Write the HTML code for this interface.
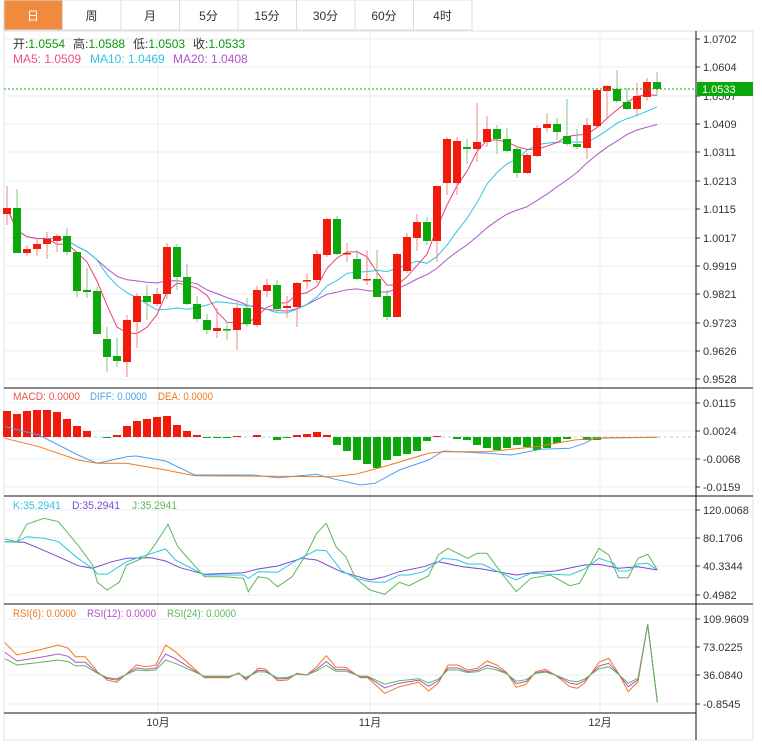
<!DOCTYPE html><html><head><meta charset="utf-8"><style>
body{margin:0;background:#fff;font-family:"Liberation Sans","Noto Sans CJK SC",sans-serif;}
svg{display:block}
</style></head><body>
<svg id="s" width="762" height="748" xmlns="http://www.w3.org/2000/svg" font-family="Liberation Sans, Noto Sans CJK SC, sans-serif"></svg>
<script>
const S=document.getElementById('s');let h='';
function L(x1,y1,x2,y2,c,w,d){h+=`<line x1="${x1}" y1="${y1}" x2="${x2}" y2="${y2}" stroke="${c}" stroke-width="${w||1}" ${d?'stroke-dasharray="'+d+'"':''}/>`;}
function R(x,y,w,hh,c,st){h+=`<rect x="${x}" y="${y}" width="${w}" height="${hh}" fill="${c}" ${st?'stroke="'+st+'"':''}/>`;}
function T(x,y,t,c,sz,a,tl){h+=`<text x="${x}" y="${y}" fill="${c}" font-size="${sz||11}" ${a?'text-anchor="'+a+'"':''} ${tl?'textLength="'+tl+'" lengthAdjust="spacingAndGlyphs"':''}>${t}</text>`;}
function P(pts,c,w){h+=`<polyline fill="none" stroke="${c}" stroke-width="${w||1}" points="${pts.map(p=>p[0].toFixed(1)+','+p[1].toFixed(1)).join(' ')}"/>`;}
R(4,31,749,709,'#fff','#dde3e8');
const tabs=['日','周','月','5分','15分','30分','60分','4时'];
tabs.forEach((t,i)=>{const x=4+i*58.5;R(x,0,58.5,30,i==0?'#f08a3e':'#fff','#dcdcdc');T(x+29,20,t,i==0?'#fff':'#333',12,'middle');});
const gy=[39,67,96,124,152,181,209,238,266,294,323,351,379];
const gl=['1.0702','1.0604','1.0507','1.0409','1.0311','1.0213','1.0115','1.0017','0.9919','0.9821','0.9723','0.9626','0.9528'];
gy.forEach((y,i)=>{L(4,y,696,y,'#e8eef2');L(696,y,700,y,'#333');T(703,y+4,gl[i],'#333',11);});
[[403,'0.0115'],[431,'0.0024'],[459,'-0.0068'],[487,'-0.0159']].forEach(a=>{L(4,a[0],696,a[0],'#e8eef2');L(696,a[0],700,a[0],'#333');T(703,a[0]+4,a[1],'#333',11);});
[[510,'120.0068'],[538,'80.1706'],[566,'40.3344'],[595,'0.4982']].forEach(a=>{L(4,a[0],696,a[0],'#e8eef2');L(696,a[0],700,a[0],'#333');T(703,a[0]+4,a[1],'#333',11);});
[[619,'109.9609'],[647,'73.0225'],[675,'36.0840'],[704,'-0.8545']].forEach(a=>{L(4,a[0],696,a[0],'#e8eef2');L(696,a[0],700,a[0],'#333');T(703,a[0]+4,a[1],'#333',11);});
[158,370,600].forEach((x,i)=>{L(x,31,x,713,'#e8eef2');T(x,726,['10月','11月','12月'][i],'#333',11,'middle');});
const C=[[1,208,214,186,225],[0,208,253,189,253],[1,249,253,245,256],[1,244,249,238,256],[1,239,244,232,259],[1,236,241,234,252],[0,236,252,228,255],[0,252,291,252,297],[0,290,292,268,298],[0,291,334,287,334],
[0,339,357,327,372],[0,356,361,338,367],[1,320,362,315,377],[1,296,322,293,348],[0,296,302,285,320],[1,294,304,288,306],[1,247,294,243,299],[0,247,277,244,290],[0,277,304,264,305],[0,304,319,296,322],
[0,320,330,314,334],[1,328,331,308,338],[0,329,330,322,340],[1,308,330,302,350],[0,308,324,298,327],[1,290,325,286,327],[1,285,291,279,297],[0,285,309,280,312],[1,306,308,296,318],[1,283,307,282,327],
[1,280,281,273,289],[1,254,280,250,283],[1,219,255,218,257],[0,219,254,216,255],[1,253,254,243,262],[0,259,279,250,280],[1,279,280,250,285],[0,279,297,250,297],[0,296,317,290,320],[1,254,317,253,317],
[1,237,271,233,273],[1,222,238,214,251],[0,222,241,217,245],[1,186,241,186,262],[1,139,183,137,195],[1,141,183,137,195],[0,147,149,139,164],[1,142,149,103,162],[1,129,142,116,147],[0,129,139,125,154],
[0,139,151,128,152],[0,149,173,147,178],[1,155,173,153,174],[1,128,156,125,157],[1,124,128,113,132],[0,124,132,118,140],[0,136,144,99,146],[0,144,147,129,149],[1,125,148,118,159],[1,90,126,88,127],
[1,86,91,85,118],[0,89,101,70,103],[0,102,109,88,110],[1,96,109,83,115],[1,82,97,78,101],[0,82,89,72,96]];
const X=i=>7+i*10;
const cl=C.map(c=>c[0]?c[1]:c[2]);
function ma(n){return cl.map((v,i)=>{let a=cl.slice(Math.max(0,i-n+1),i+1);return [X(i),a.reduce((p,q)=>p+q,0)/a.length];});}
P(ma(20),'#b154c8');P(ma(10),'#2ec6e0');P(ma(5),'#ee3f7b');
C.forEach((c,i)=>{const col=c[0]?'#f21a0a':'#0aa80a';const wc=c[0]?'#f08a80':'#80c880';L(X(i),c[3],X(i),c[4],wc);R(X(i)-4,c[1],8,Math.max(1.5,c[2]-c[1]),col);});
L(4,89,696,89,'#1aa81a',1,'2,2');R(697,82,56,14,'#0aa80a');T(702,93,'1.0533','#fff',11);
// header
[[13,'开:','1.0554'],[73,'高:','1.0588'],[133,'低:','1.0503'],[193,'收:','1.0533']].forEach(a=>{h+=`<text x="${a[0]}" y="48" font-size="12" fill="#333">${a[1]}<tspan fill="#0a9a0a">${a[2]}</tspan></text>`;});
T(13,63,'MA5: 1.0509','#ee4d8a',12);T(90,63,'MA10: 1.0469','#2ec6e0',12);T(173,63,'MA20: 1.0408','#b154c8',12);
// MACD
const hb=[26,23,26,27,27,25,18,11,6,0,-1,2,11,16,18,20,21,12,6,2,-1,-1,-1,1,0,2,0,-3,-1,2,3,5,2,-8,-14,-23,-27,-31,-23,-19,-17,-14,-4,1,0,-2,-3,-8,-11,-13,-11,-8,-10,-13,-11,-6,-2,0,-3,-3,0,0,0,0,0,0];
L(4,437,696,437,'#9fd8ea',1,'3,3');
hb.forEach((v,i)=>{if(v>0)R(X(i)-4,437-v,8,v,'#f21a0a');else if(v<0)R(X(i)-4,437,8,-v,'#0aa80a');});
const Z=(a,oy)=>a.map(p=>[p[0]*0.487,oy+p[1]/3]);
P(Z([[10,125],[80,150],[160,210],[200,235],[260,215],[280,213],[340,228],[400,270],[520,270],[570,278],[650,268],[680,280],[740,300],[770,295],[820,255],[880,225],[910,198],[1000,205],[1050,210],[1110,193],[1170,190],[1200,175],[1220,160],[1350,157]],385),'#4aa3f0');
P(Z([[10,160],[80,185],[160,225],[200,235],[260,235],[340,255],[400,272],[680,275],[730,268],[800,240],[880,205],[910,200],[1000,200],[1100,185],[1180,165],[1240,158],[1350,157]],385),'#f07a1a');
T(13,400,'MACD: 0.0000','#f05050',11,null,67);T(90,400,'DIFF: 0.0000','#4aa3f0',11,null,57);T(158,400,'DEA: 0.0000','#f07a1a',11,null,55);
// KDJ
P(Z([[10,140],[50,142],[80,160],[120,185],[160,212],[190,220],[230,200],[260,190],[310,188],[340,198],[370,218],[420,238],[500,233],[530,222],[570,213],[620,190],[650,195],[700,230],[760,255],[790,245],[820,230],[870,215],[900,200],[950,215],[990,222],[1060,240],[1100,232],[1140,228],[1200,210],[1230,208],[1270,220],[1310,215],[1350,225]],495),'#7a4ad0');
P(Z([[10,140],[35,140],[55,125],[90,130],[120,140],[160,190],[190,220],[200,237],[220,238],[260,200],[290,185],[340,162],[360,195],[420,240],[470,240],[500,240],[510,250],[530,230],[570,232],[610,195],[650,165],[670,167],[700,225],[730,250],[760,260],[790,262],[820,240],[840,240],[870,230],[910,190],[940,195],[960,207],[990,207],[1030,235],[1060,255],[1090,235],[1130,238],[1170,240],[1200,222],[1230,190],[1260,205],[1270,228],[1290,228],[1310,207],[1330,205],[1350,225]],495),'#2ec6e0');
P(Z([[10,132],[35,140],[55,88],[90,70],[120,80],[160,150],[190,210],[200,262],[220,285],[245,262],[260,210],[300,185],[320,145],[345,88],[365,155],[420,245],[460,245],[500,250],[510,290],[530,245],[550,250],[570,275],[600,245],[630,175],[650,115],[670,85],[690,155],[710,185],[730,250],[760,285],[790,298],[820,262],[840,272],[880,242],[900,180],[920,160],[960,190],[980,175],[1000,175],[1030,235],[1060,290],[1090,250],[1130,240],[1170,272],[1190,265],[1230,160],[1250,180],[1270,248],[1290,248],[1310,190],[1330,178],[1350,225]],495),'#5cb85c');
T(13,509,'K:35.2941','#2ec6e0',11,null,48);T(72,509,'D:35.2941','#7a4ad0',11,null,48);T(132,509,'J:35.2941','#5cb85c',11,null,45);
// RSI
const r6=[[10,443],[35,480],[80,465],[120,450],[140,460],[155,485],[175,485],[200,530],[220,555],[240,562],[280,510],[300,515],[320,510],[340,450],[360,470],[420,548],[470,548],[490,533],[505,555],[530,520],[545,522],[570,557],[590,555],[610,535],[630,540],[650,515],[670,482],[690,517],[710,517],[740,548],[755,548],[790,595],[820,575],[860,562],[880,588],[900,565],[920,510],[940,510],[960,525],[980,520],[1000,498],[1020,510],[1040,532],[1060,577],[1080,568],[1100,530],[1120,523],[1140,540],[1170,575],[1185,580],[1200,565],[1230,502],[1250,490],[1270,535],[1290,590],[1310,560],[1330,388],[1350,622]];
const rx=(f)=>r6.map((p,i)=>i>=r6.length-2?p:[p[0],540+(p[1]-540)*f]);
P(Z(r6,495),'#f07a1a');P(Z(rx(0.7),495),'#b154c8');P(Z(rx(0.5),495),'#5cb85c');
T(13,617,'RSI(6): 0.0000','#f07a1a',11,null,63);T(87,617,'RSI(12): 0.0000','#b154c8',11,null,69);T(167,617,'RSI(24): 0.0000','#5cb85c',11,null,69);
L(4,388,753,388,'#111');L(4,496,753,496,'#111');L(4,604,753,604,'#111');L(4,713,696,713,'#111');
L(696,31,696,740,'#111');
S.innerHTML=h;
</script>
</body></html>
